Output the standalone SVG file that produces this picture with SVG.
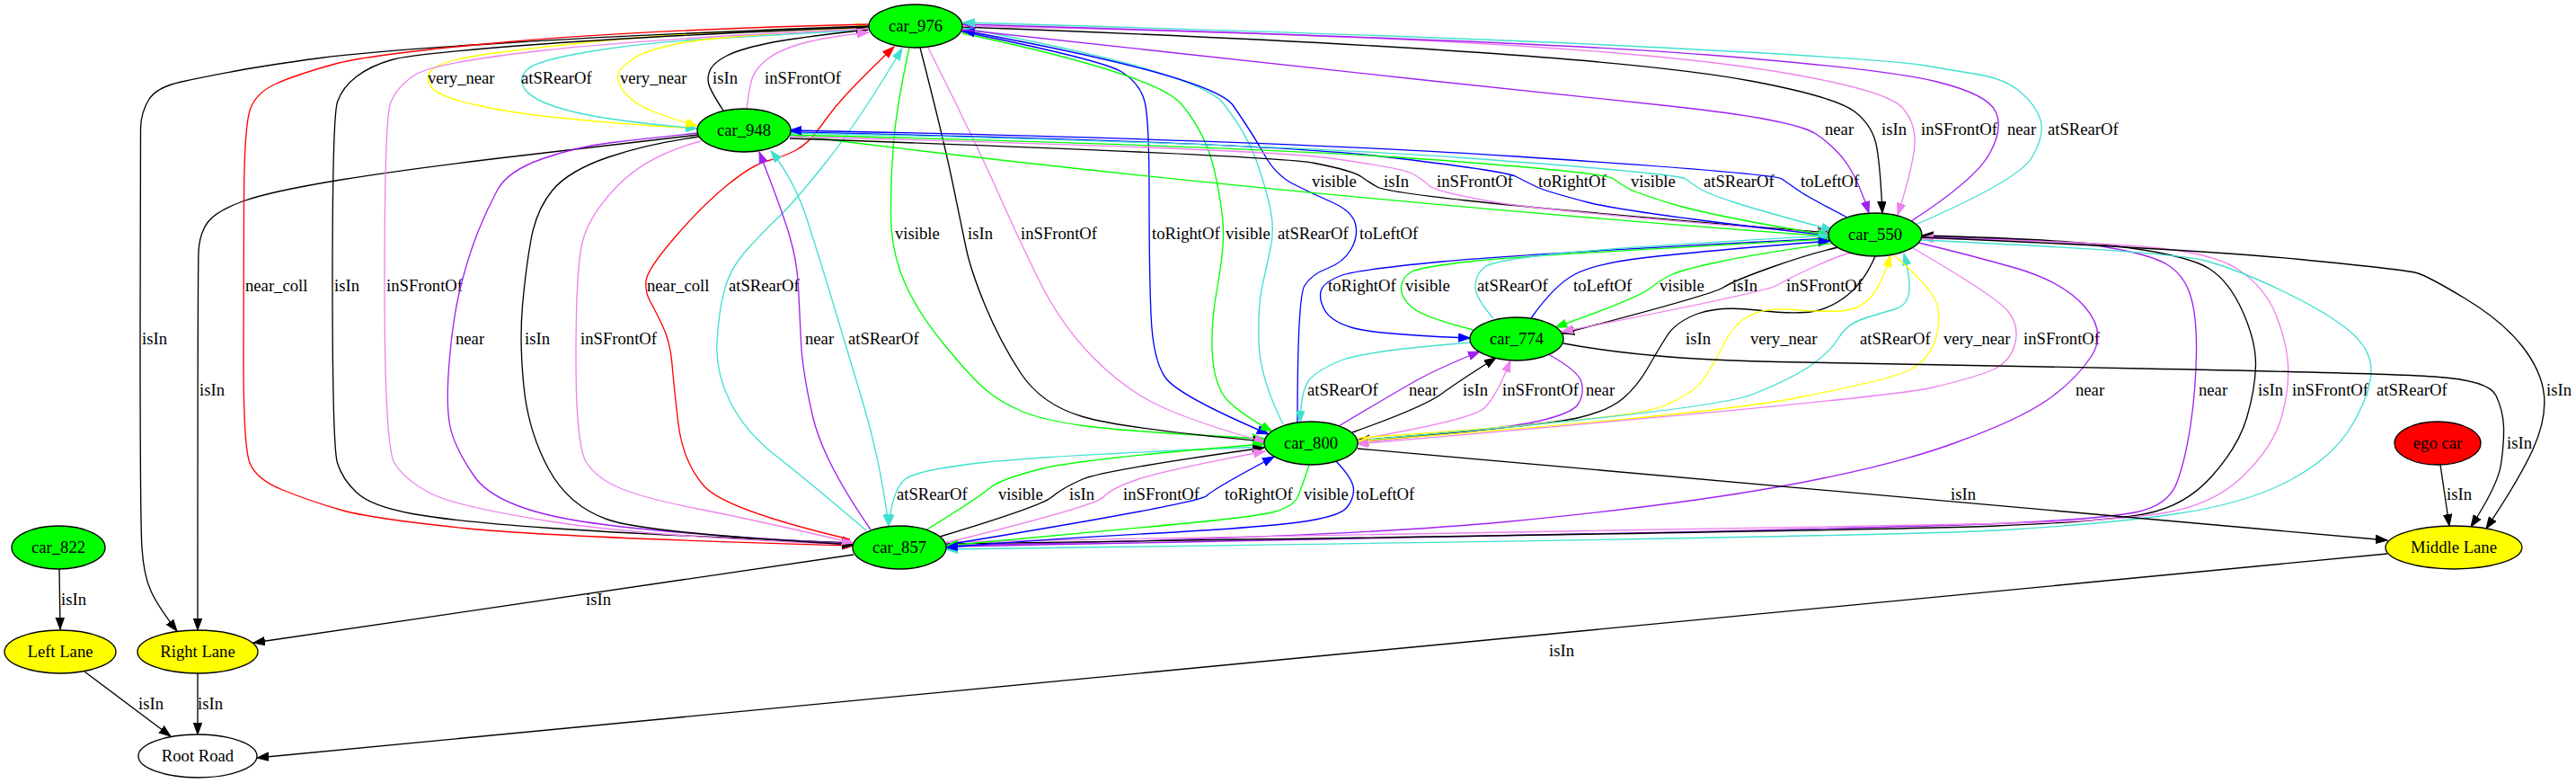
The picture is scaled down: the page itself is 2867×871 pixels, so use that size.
<svg xmlns="http://www.w3.org/2000/svg" width="2867" height="871" viewBox="0 0 2867 871">
<style>
.e{fill:none;stroke-width:1.33}
.k{stroke:#000000;marker-end:url(#ak)}
.p{stroke:#A020F0;marker-end:url(#ap)}
.v{stroke:#EE82EE;marker-end:url(#av)}
.c{stroke:#40E0D0;marker-end:url(#ac)}
.y{stroke:#FFFF00;marker-end:url(#ay)}
.r{stroke:#FF0000;marker-end:url(#ar)}
.g{stroke:#00FF00;marker-end:url(#ag)}
.b{stroke:#0000FF;marker-end:url(#ab)}
.l{font-family:"Liberation Serif","Times New Roman",serif;font-size:18.67px;fill:#000}
.nt{font-family:"Liberation Serif","Times New Roman",serif;font-size:18.67px;fill:#000;text-anchor:middle}
.nd{stroke:#000;stroke-width:1.33}
</style>
<defs>
<marker id="ak" markerUnits="userSpaceOnUse" markerWidth="14" markerHeight="11" refX="13" refY="5" orient="auto-start-reverse"><path d="M0,0.3 L13,5 L0,9.7 z" fill="#000000" stroke="#000000"/></marker>
<marker id="ap" markerUnits="userSpaceOnUse" markerWidth="14" markerHeight="11" refX="13" refY="5" orient="auto-start-reverse"><path d="M0,0.3 L13,5 L0,9.7 z" fill="#A020F0" stroke="#A020F0"/></marker>
<marker id="av" markerUnits="userSpaceOnUse" markerWidth="14" markerHeight="11" refX="13" refY="5" orient="auto-start-reverse"><path d="M0,0.3 L13,5 L0,9.7 z" fill="#EE82EE" stroke="#EE82EE"/></marker>
<marker id="ac" markerUnits="userSpaceOnUse" markerWidth="14" markerHeight="11" refX="13" refY="5" orient="auto-start-reverse"><path d="M0,0.3 L13,5 L0,9.7 z" fill="#40E0D0" stroke="#40E0D0"/></marker>
<marker id="ay" markerUnits="userSpaceOnUse" markerWidth="14" markerHeight="11" refX="13" refY="5" orient="auto-start-reverse"><path d="M0,0.3 L13,5 L0,9.7 z" fill="#FFFF00" stroke="#FFFF00"/></marker>
<marker id="ar" markerUnits="userSpaceOnUse" markerWidth="14" markerHeight="11" refX="13" refY="5" orient="auto-start-reverse"><path d="M0,0.3 L13,5 L0,9.7 z" fill="#FF0000" stroke="#FF0000"/></marker>
<marker id="ag" markerUnits="userSpaceOnUse" markerWidth="14" markerHeight="11" refX="13" refY="5" orient="auto-start-reverse"><path d="M0,0.3 L13,5 L0,9.7 z" fill="#00FF00" stroke="#00FF00"/></marker>
<marker id="ab" markerUnits="userSpaceOnUse" markerWidth="14" markerHeight="11" refX="13" refY="5" orient="auto-start-reverse"><path d="M0,0.3 L13,5 L0,9.7 z" fill="#0000FF" stroke="#0000FF"/></marker>
</defs>
<rect x="0" y="0" width="2867" height="871" fill="#ffffff"/>
<g id="edges">
<g id="e1"><path class="e y" d="M777,143 Q720,140 647,133.5 Q574,127 530.5,117 Q487,107 480,97 Q473,87 480,78.5 Q487,70 519,64 Q551,58 635.5,49 Q720,40 800,36 Q880,32 966,30"/><text class="l" x="476" y="93">very_near</text></g>
<g id="e2"><path class="e c" d="M966,33 Q880,38 800,42.5 Q720,47 658.5,57 Q597,67 586.5,77.5 Q576,88 584,99 Q592,110 617.5,118.5 Q643,127 681.5,132.5 Q720,138 776,143"/><text class="l" x="580" y="93">atSRearOf</text></g>
<g id="e3"><path class="e y" d="M966,31 Q800,40 760,47.5 Q720,55 705,65 Q690,75 688,82.5 Q686,90 693,100 Q700,110 715,118.5 Q730,127 776,140"/><text class="l" x="690" y="93">very_near</text></g>
<g id="e4"><path class="e k" d="M805,123 Q790,100 788.5,92.5 Q787,85 790.5,77.5 Q794,70 808,62.5 Q822,55 853,48.5 Q884,42 966,33"/><text class="l" x="793" y="93">isIn</text></g>
<g id="e5"><path class="e v" d="M831,122 Q834,95 838,85 Q842,75 855,65 Q868,55 894,48 Q920,41 967,36"/><text class="l" x="851" y="93">inSFrontOf</text></g>
<g id="e6"><path class="e k" d="M967,29 Q720,38 566.5,47.5 Q413,57 356.5,64.5 Q300,72 265,78.5 Q230,85 202,91 Q174,97 165.5,111 Q157,125 156.5,142.5 Q156,160 156,370 Q156,580 158,610 Q160,640 168,657.5 Q176,675 197,702"/><text class="l" x="158" y="383">isIn</text></g>
<g id="e7"><path class="e k" d="M777,150 Q720,157 589.5,172 Q459,187 379.5,200 Q300,213 270,224 Q240,235 231,247.5 Q222,260 221,280 Q220,300 220,701"/><text class="l" x="222" y="440">isIn</text></g>
<g id="e8"><path class="e r" d="M967,27 Q720,33 566.5,46.5 Q413,60 371.5,71.5 Q330,83 307.5,93 Q285,103 278.5,121.5 Q272,140 271.5,220 Q271,300 271,398.5 Q271,497 278,515 Q285,533 314.5,545 Q344,557 378.5,567 Q413,577 516.5,587.5 Q620,598 950,607"/><text class="l" x="273" y="324">near_coll</text></g>
<g id="e9"><path class="e k" d="M967,30 Q720,40 589.5,50 Q459,60 436,66.5 Q413,73 397,85 Q381,97 375.5,113.5 Q370,130 370,313.5 Q370,497 375.5,515 Q381,533 397,548 Q413,563 459,571.5 Q505,580 612.5,587.5 Q720,595 950,604"/><text class="l" x="372" y="324">isIn</text></g>
<g id="e10"><path class="e v" d="M967,32 Q720,43 601,56.5 Q482,70 461.5,83.5 Q441,97 434.5,115 Q428,133 428,315 Q428,497 439,515 Q450,533 477.5,548 Q505,563 612.5,580 Q720,597 950,606"/><text class="l" x="430" y="324">inSFrontOf</text></g>
<g id="e11"><path class="e p" d="M777,148 Q720,154 681.5,158.5 Q643,163 604,176.5 Q565,190 553.5,211.5 Q542,233 532.5,256.5 Q523,280 514,313.5 Q505,347 500.5,397 Q496,447 500.5,472 Q505,497 528,530 Q551,563 635.5,578 Q720,593 950,605"/><text class="l" x="507" y="383">near</text></g>
<g id="e12"><path class="e k" d="M778,152 Q720,160 676.5,175 Q633,190 615,211.5 Q597,233 591,266.5 Q585,300 581.5,340 Q578,380 583,430 Q588,480 610.5,521.5 Q633,563 676.5,578 Q720,593 950,606"/><text class="l" x="584" y="383">isIn</text></g>
<g id="e13"><path class="e v" d="M780,157 Q720,173 687.5,206.5 Q655,240 648,270 Q641,300 641,398.5 Q641,497 653,515 Q665,533 692.5,544 Q720,555 779,566.5 Q838,578 950,604"/><text class="l" x="646" y="383">inSFrontOf</text></g>
<g id="e14"><path class="e r" d="M946,600 Q806,567 783,540 Q760,513 755,471.5 Q750,430 748,405 Q746,380 737,361.5 Q728,343 723,334 Q718,325 719,312.5 Q720,300 751.5,263.5 Q783,227 810.5,205 Q838,183 854,179 Q870,175 885,167.5 Q900,160 915,138.5 Q930,117 950.5,96 Q971,75 995,52"/><text class="l" x="720" y="324">near_coll</text></g>
<g id="e15"><path class="e c" d="M964,590 Q897,533 863,506.5 Q829,480 812.5,446.5 Q796,413 798,380 Q800,347 806,323.5 Q812,300 828.5,281 Q845,262 864.5,243.5 Q884,225 920.5,179 Q957,133 1004,54"/><text class="l" x="811" y="324">atSRearOf</text></g>
<g id="e16"><path class="e p" d="M969,589 Q916,513 904.5,463 Q893,413 891.5,380 Q890,347 888.5,318.5 Q887,290 878.5,261.5 Q870,233 845,169"/><text class="l" x="896" y="383">near</text></g>
<g id="e17"><path class="e c" style="marker-start:url(#ac)" d="M858,168 Q884,200 898.5,245 Q913,290 926.5,335 Q940,380 960,446.5 Q980,513 989,585"/><text class="l" x="944" y="383">atSRearOf</text></g>
<g id="e18"><path class="e g" d="M1012,53 Q998,117 994.5,158.5 Q991,200 991.5,240 Q992,280 1006.5,313.5 Q1021,347 1051,383.5 Q1081,420 1097,433.5 Q1113,447 1136,457 Q1159,467 1205,473.5 Q1251,480 1407,488"/><text class="l" x="996" y="266">visible</text></g>
<g id="e19"><path class="e k" d="M1024,53 Q1049,150 1059.5,200 Q1070,250 1075,275 Q1080,300 1096.5,340 Q1113,380 1136,415 Q1159,450 1205,463.5 Q1251,477 1408,491"/><text class="l" x="1077" y="266">isIn</text></g>
<g id="e20"><path class="e v" d="M1033,53 Q1090,167 1110.5,213.5 Q1131,260 1155.5,310 Q1180,360 1215.5,396.5 Q1251,433 1290.5,451.5 Q1330,470 1409,492"/><text class="l" x="1136" y="266">inSFrontOf</text></g>
<g id="e21"><path class="e b" d="M1070,35 Q1228,67 1248.5,80 Q1269,93 1274,113 Q1279,133 1279,216.5 Q1279,300 1281,350 Q1283,400 1297,420 Q1311,440 1412,483"/><text class="l" x="1282" y="266">toRightOf</text></g>
<g id="e22"><path class="e g" style="marker-end:none;marker-start:url(#ag)" d="M1416,480 Q1380,460 1366,445 Q1352,430 1349.5,396.5 Q1347,363 1354.5,321.5 Q1362,280 1361.5,256.5 Q1361,233 1352,191.5 Q1343,150 1315.5,116.5 Q1288,83 1071,37"/><text class="l" x="1364" y="266">visible</text></g>
<g id="e23"><path class="e c" d="M1428,472 Q1402,420 1401,380 Q1400,340 1405,317.5 Q1410,295 1414,276.5 Q1418,258 1415,239 Q1412,220 1400.5,185 Q1389,150 1361.5,115 Q1334,80 1072,31"/><text class="l" x="1422" y="266">atSRearOf</text></g>
<g id="e24"><path class="e b" d="M1444,470 Q1444,330 1452,317.5 Q1460,305 1477.5,298.5 Q1495,292 1503.5,277.5 Q1512,263 1508.5,249 Q1505,235 1482.5,225 Q1460,215 1440,205 Q1420,195 1407.5,172.5 Q1395,150 1372.5,117.5 Q1350,85 1072,34"/><text class="l" x="1513" y="266">toLeftOf</text></g>
<g id="e25"><path class="e p" d="M1071,33 Q1420,72 1570.5,87.5 Q1721,103 1859,118 Q1997,133 2021,149 Q2045,165 2057.5,185 Q2070,205 2080,237"/><text class="l" x="2031" y="150">near</text></g>
<g id="e26"><path class="e k" d="M1071,30 Q1420,43 1639.5,58 Q1859,73 1951,90.5 Q2043,108 2064,124 Q2085,140 2089,165 Q2093,190 2095,237"/><text class="l" x="2094" y="150">isIn</text></g>
<g id="e27"><path class="e v" d="M1071,29 Q1400,35 1629.5,47.5 Q1859,60 1979.5,80 Q2100,100 2117.5,120 Q2135,140 2130,170 Q2125,200 2112,239"/><text class="l" x="2138" y="150">inSFrontOf</text></g>
<g id="e28"><path class="e p" d="M2127,246 Q2198,200 2214,171.5 Q2230,143 2221,124 Q2212,105 2156,91 Q2100,77 1900,61 Q1700,45 1072,27"/><text class="l" x="2234" y="150">near</text></g>
<g id="e29"><path class="e c" d="M2134,249 Q2247,200 2261.5,175 Q2276,150 2271,133.5 Q2266,117 2249,102.5 Q2232,88 2202.5,83 Q2173,78 2136.5,72 Q2100,66 1850,53 Q1600,40 1072,25"/><text class="l" x="2279" y="150">atSRearOf</text></g>
<g id="e30"><path class="e g" d="M879,150 Q1420,218 2036,263"/><text class="l" x="1460" y="208">visible</text></g>
<g id="e31"><path class="e k" d="M879,154 Q1420,173 1463,181.5 Q1506,190 1515,196.5 Q1524,203 1533,208 Q1542,213 1631.5,223 Q1721,233 2036,259"/><text class="l" x="1540" y="208">isIn</text></g>
<g id="e32"><path class="e v" d="M879,152 Q1400,165 1480.5,176 Q1561,187 1572.5,193.5 Q1584,200 1590.5,206.5 Q1597,213 1659,224 Q1721,235 2036,260"/><text class="l" x="1599" y="208">inSFrontOf</text></g>
<g id="e33"><path class="e b" d="M879,147 Q1400,158 1537.5,174 Q1675,190 1687.5,196.5 Q1700,203 1710.5,208 Q1721,213 1767,225 Q1813,237 2036,262"/><text class="l" x="1712" y="208">toRightOf</text></g>
<g id="e34"><path class="e g" d="M879,150 Q1400,163 1593,177.5 Q1786,192 1795,198.5 Q1804,205 1813,210 Q1822,215 1863.5,227.5 Q1905,240 2036,262"/><text class="l" x="1815" y="208">visible</text></g>
<g id="e35"><path class="e c" d="M879,148 Q1400,159 1634,176 Q1868,193 1876,199 Q1884,205 1892,210 Q1900,215 1930,225 Q1960,235 2040,256"/><text class="l" x="1896" y="208">atSRearOf</text></g>
<g id="e36"><path class="e b" d="M2056,242 Q2010,218 2001,211.5 Q1992,205 1983,199 Q1974,193 1687,174 Q1400,155 879,145"/><text class="l" x="2004" y="208">toLeftOf</text></g>
<g id="e37"><path class="e b" d="M2036,265 Q1700,282 1605,291 Q1510,300 1492.5,306.5 Q1475,313 1471,321.5 Q1467,330 1473.5,343.5 Q1480,357 1505,364.5 Q1530,372 1636,376"/><text class="l" x="1478" y="324">toRightOf</text></g>
<g id="e38"><path class="e g" d="M1640,367 Q1584,353 1571,341.5 Q1558,330 1559.5,319 Q1561,308 1570.5,302.5 Q1580,297 1640,290.5 Q1700,284 2036,266"/><text class="l" x="1564" y="324">visible</text></g>
<g id="e39"><path class="e c" d="M1662,354 Q1641,330 1642,317.5 Q1643,305 1651.5,297.5 Q1660,290 1730,282.5 Q1800,275 2037,262"/><text class="l" x="1644" y="324">atSRearOf</text></g>
<g id="e40"><path class="e b" d="M1704,354 Q1730,317 1753,305 Q1776,293 1831.5,286.5 Q1887,280 2037,268"/><text class="l" x="1751" y="324">toLeftOf</text></g>
<g id="e41"><path class="e g" d="M2042,270 Q1951,283 1912,291.5 Q1873,300 1861.5,305 Q1850,310 1836,321 Q1822,332 1731,364"/><text class="l" x="1847" y="324">visible</text></g>
<g id="e42"><path class="e k" d="M2046,275 Q2015,282 1972.5,297 Q1930,312 1917.5,320 Q1905,328 1739,371"/><text class="l" x="1928" y="324">isIn</text></g>
<g id="e43"><path class="e v" d="M2060,281 Q2047,284 2018.5,297 Q1990,310 1977.5,317.5 Q1965,325 1738,369"/><text class="l" x="1988" y="324">inSFrontOf</text></g>
<g id="e44"><path class="e c" d="M1637,381 Q1520,390 1492.5,401 Q1465,412 1456.5,423.5 Q1448,435 1447,470"/><text class="l" x="1455" y="440">atSRearOf</text></g>
<g id="e45"><path class="e p" d="M1490,474 Q1552,437 1576,423.5 Q1600,410 1647,391"/><text class="l" x="1568" y="440">near</text></g>
<g id="e46"><path class="e k" d="M1505,481 Q1584,453 1604.5,438 Q1625,423 1665,398"/><text class="l" x="1628" y="440">isIn</text></g>
<g id="e47"><path class="e v" d="M1510,489 Q1639,467 1652.5,453.5 Q1666,440 1681,401"/><text class="l" x="1672" y="440">inSFrontOf</text></g>
<g id="e48"><path class="e p" d="M1723,394 Q1758,413 1760.5,426.5 Q1763,440 1756,450 Q1749,460 1712,468.5 Q1675,477 1511,492"/><text class="l" x="1765" y="440">near</text></g>
<g id="e49"><path class="e k" d="M2087,285 Q2075,313 2056.5,328 Q2038,343 2017.5,346.5 Q1997,350 1955.5,345 Q1914,340 1889.5,349 Q1865,358 1855,374 Q1845,390 1833.5,410 Q1822,430 1806,443.5 Q1790,457 1755.5,465 Q1721,473 1511,490"/><text class="l" x="1876" y="383">isIn</text></g>
<g id="e50"><path class="e y" d="M1511,487 Q1813,467 1850,452 Q1887,437 1898.5,418.5 Q1910,400 1920,380 Q1930,360 1947.5,351 Q1965,342 1995,344.5 Q2025,347 2047.5,346 Q2070,345 2082.5,330 Q2095,315 2104,284"/><text class="l" x="1948" y="383">very_near</text></g>
<g id="e51"><path class="e c" d="M1511,490 Q1905,457 1951,438.5 Q1997,420 2017.5,405 Q2038,390 2047,375 Q2056,360 2077,353.5 Q2098,347 2110,343.5 Q2122,340 2124.5,326.5 Q2127,313 2119,282"/><text class="l" x="2070" y="383">atSRearOf</text></g>
<g id="e52"><path class="e y" d="M2108,284 Q2154,323 2157,343 Q2160,363 2152,383 Q2144,403 2122,413 Q2100,423 2000,442.5 Q1900,462 1511,491"/><text class="l" x="2163" y="383">very_near</text></g>
<g id="e53"><path class="e v" d="M2129,276 Q2222,330 2235,346.5 Q2248,363 2242.5,383 Q2237,403 2217.5,411.5 Q2198,420 2149,431.5 Q2100,443 1510,494"/><text class="l" x="2252" y="383">inSFrontOf</text></g>
<g id="e54"><path class="e p" d="M2135,270 Q2186,282 2241,297.5 Q2296,313 2320.5,341.5 Q2345,370 2327.5,396.5 Q2310,423 2278.5,445 Q2247,467 2173.5,493.5 Q2100,520 1979.5,541.5 Q1859,563 1675.5,580.5 Q1492,598 1053,607"/><text class="l" x="2310" y="440">near</text></g>
<g id="e55"><path class="e p" d="M2139,263 Q2296,267 2344.5,275 Q2393,283 2411.5,294 Q2430,305 2437.5,327.5 Q2445,350 2444.5,391.5 Q2444,433 2438,473 Q2432,513 2422.5,537.5 Q2413,562 2378.5,569.5 Q2344,577 2222,582.5 Q2100,588 1053,608"/><text class="l" x="2447" y="440">near</text></g>
<g id="e56"><path class="e k" d="M1053,605 Q2100,590 2222,585 Q2344,580 2388,571.5 Q2432,563 2461.5,530 Q2491,497 2500.5,465 Q2510,433 2510.5,406.5 Q2511,380 2496,346.5 Q2481,313 2459,299 Q2437,285 2368.5,275.5 Q2300,266 2139,262"/><text class="l" x="2513" y="440">isIn</text></g>
<g id="e57"><path class="e v" d="M1053,603 Q2100,585 2222,582.5 Q2344,580 2403,571.5 Q2462,563 2496,530 Q2530,497 2539,465 Q2548,433 2546.5,406.5 Q2545,380 2533,350 Q2521,320 2491.5,300 Q2462,280 2381,274 Q2300,268 2139,265"/><text class="l" x="2551" y="440">inSFrontOf</text></g>
<g id="e58"><path class="e c" d="M2138,267 Q2418,280 2454.5,290 Q2491,300 2540,323.5 Q2589,347 2613.5,367 Q2638,387 2639,410 Q2640,433 2619.5,470 Q2599,507 2550,533.5 Q2501,560 2422.5,571.5 Q2344,583 2222,590 Q2100,597 1053,611"/><text class="l" x="2645" y="440">atSRearOf</text></g>
<g id="e59"><path class="e k" d="M2139,264 Q2442,277 2559.5,288.5 Q2677,300 2689.5,303.5 Q2702,307 2743.5,332 Q2785,357 2807,385 Q2829,413 2831.5,440 Q2834,467 2819,500 Q2804,533 2767,588"/><text class="l" x="2834" y="440">isIn</text></g>
<g id="e60"><path class="e k" d="M1740,382 Q1836,400 1978,402.5 Q2120,405 2384,410 Q2648,415 2709,419 Q2770,423 2778,440 Q2786,457 2786.5,475 Q2787,493 2783.5,516.5 Q2780,540 2750,586"/><text class="l" x="2790" y="499">isIn</text></g>
<g id="e61"><path class="e k" d="M2716,517 L2726,585"/><text class="l" x="2723" y="556">isIn</text></g>
<g id="e62"><path class="e k" d="M1511,499 L2657,601"/><text class="l" x="2171" y="556">isIn</text></g>
<g id="e63"><path class="e k" d="M2657,616 L286,843"/><text class="l" x="1724" y="730">isIn</text></g>
<g id="e64"><path class="e k" d="M950,617 L282,715"/><text class="l" x="652" y="673">isIn</text></g>
<g id="e65"><path class="e k" d="M66,633 L67,700"/><text class="l" x="68" y="673">isIn</text></g>
<g id="e66"><path class="e k" d="M94,747 L190,819"/><text class="l" x="154" y="789">isIn</text></g>
<g id="e67"><path class="e k" d="M220,749 L220,817"/><text class="l" x="220" y="789">isIn</text></g>
<g id="e68"><path class="e c" d="M1408,497 Q1159,507 1090,515 Q1021,523 1007.5,533 Q994,543 989,585"/><text class="l" x="998" y="556">atSRearOf</text></g>
<g id="e69"><path class="e g" d="M1030,590 Q1090,553 1101.5,543 Q1113,533 1159,521.5 Q1205,510 1407,494"/><text class="l" x="1111" y="556">visible</text></g>
<g id="e70"><path class="e k" d="M1046,597 Q1159,563 1170.5,553 Q1182,543 1205,533 Q1228,523 1407,498"/><text class="l" x="1190" y="556">isIn</text></g>
<g id="e71"><path class="e v" d="M1052,604 Q1219,563 1228,553 Q1237,543 1267,533 Q1297,523 1408,502"/><text class="l" x="1250" y="556">inSFrontOf</text></g>
<g id="e72"><path class="e b" d="M1053,606 Q1334,560 1343,551.5 Q1352,543 1418,508"/><text class="l" x="1363" y="556">toRightOf</text></g>
<g id="e73"><path class="e g" d="M1457,517 Q1448,545 1443.5,554 Q1439,563 1419.5,569 Q1400,575 1279.5,586 Q1159,597 1053,607"/><text class="l" x="1451" y="556">visible</text></g>
<g id="e74"><path class="e b" d="M1487,513 Q1506,533 1506.5,544 Q1507,555 1498.5,565 Q1490,575 1445,581 Q1400,587 1279.5,593.5 Q1159,600 1053,609"/><text class="l" x="1509" y="556">toLeftOf</text></g>
</g>
<g id="car_976"><ellipse class="nd" cx="1019" cy="29" rx="52" ry="24" fill="#00FF00"/><text class="nt" x="1019" y="35">car_976</text></g>
<g id="car_948"><ellipse class="nd" cx="828" cy="145" rx="52" ry="24" fill="#00FF00"/><text class="nt" x="828" y="151">car_948</text></g>
<g id="car_550"><ellipse class="nd" cx="2087" cy="261" rx="52" ry="24" fill="#00FF00"/><text class="nt" x="2087" y="267">car_550</text></g>
<g id="car_774"><ellipse class="nd" cx="1688" cy="377" rx="52" ry="24" fill="#00FF00"/><text class="nt" x="1688" y="383">car_774</text></g>
<g id="car_800"><ellipse class="nd" cx="1459" cy="493" rx="52" ry="24" fill="#00FF00"/><text class="nt" x="1459" y="499">car_800</text></g>
<g id="car_857"><ellipse class="nd" cx="1001" cy="609" rx="52" ry="24" fill="#00FF00"/><text class="nt" x="1001" y="615">car_857</text></g>
<g id="car_822"><ellipse class="nd" cx="65" cy="609" rx="52" ry="24" fill="#00FF00"/><text class="nt" x="65" y="615">car_822</text></g>
<g id="ego_car"><ellipse class="nd" cx="2713" cy="493" rx="48" ry="24" fill="#FF0000"/><text class="nt" x="2713" y="499">ego car</text></g>
<g id="middle_lane"><ellipse class="nd" cx="2731" cy="609" rx="76" ry="24" fill="#FFFF00"/><text class="nt" x="2731" y="615">Middle Lane</text></g>
<g id="left_lane"><ellipse class="nd" cx="67" cy="725" rx="62" ry="24" fill="#FFFF00"/><text class="nt" x="67" y="731">Left Lane</text></g>
<g id="right_lane"><ellipse class="nd" cx="220" cy="725" rx="67" ry="24" fill="#FFFF00"/><text class="nt" x="220" y="731">Right Lane</text></g>
<g id="root_road"><ellipse class="nd" cx="220" cy="841" rx="66" ry="24" fill="#FFFFFF"/><text class="nt" x="220" y="847">Root Road</text></g>
</svg>
